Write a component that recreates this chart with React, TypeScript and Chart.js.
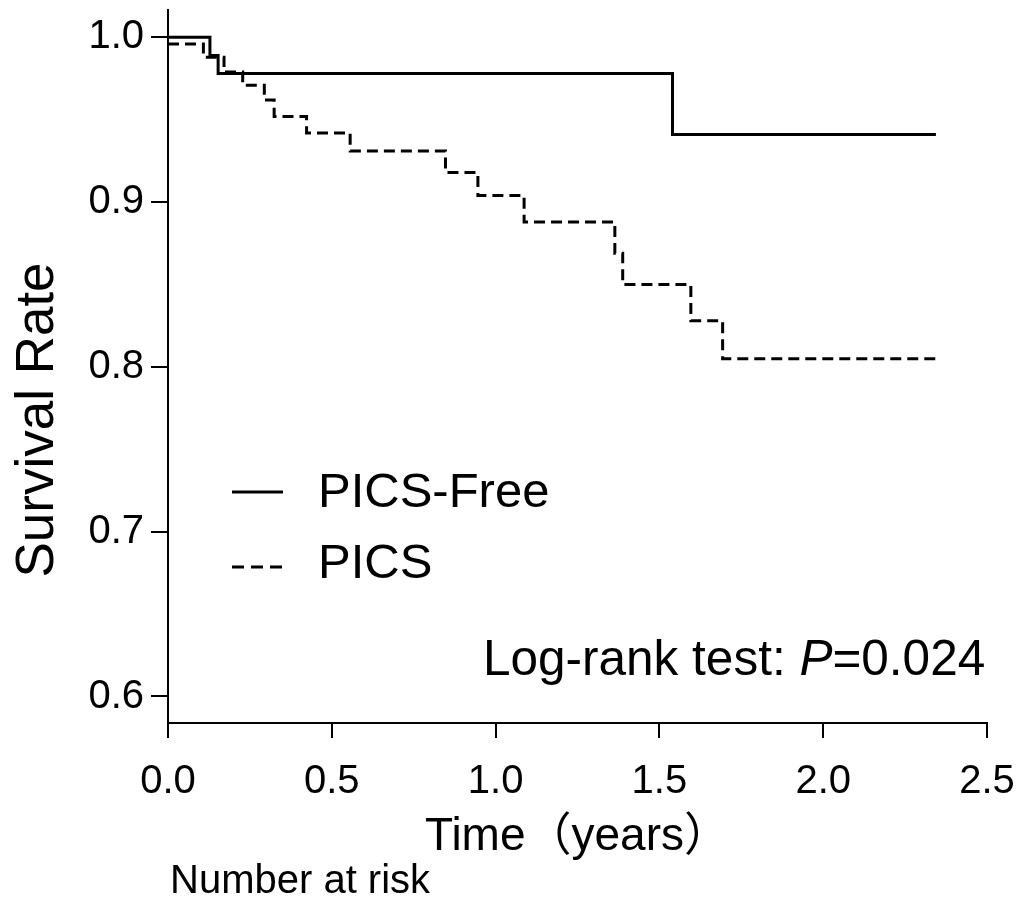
import React, { useEffect, useRef } from "react";
import { Chart, registerables } from "chart.js";

Chart.register(...registerables);

const FONT = "'Liberation Sans', Arial, 'Noto Sans CJK JP', sans-serif";

// ---- data ----
const seriesLabels = ["PICS-Free", "PICS"];
const picsFreeTimes = [0, 0.128, 0.153, 1.54, 2.344];
const picsFreeSurvival = [1.0, 0.989, 0.978, 0.941, 0.941];
const picsTimes = [0, 0.108, 0.171, 0.228, 0.294, 0.324, 0.423, 0.556, 0.847, 0.946, 1.087, 1.364, 1.388, 1.596, 1.693, 2.351];
const picsSurvival = [0.996, 0.988, 0.979, 0.971, 0.962, 0.952, 0.942, 0.931, 0.918, 0.904, 0.888, 0.869, 0.85, 0.828, 0.805, 0.805];
const xTicks = [0, 0.5, 1.0, 1.5, 2.0, 2.5];
const yTicks = [0.6, 0.7, 0.8, 0.9, 1.0];
const xTitle = "Time（years）";
const yTitle = "Survival Rate";
const testLabel = "Log-rank test: ";
const pSymbol = "P";
const pValueText = "=0.024";
const riskLabel = "Number at risk";

const overlayPlugin = {
  id: "overlay",
  afterDraw(chart: any) {
    const ctx: CanvasRenderingContext2D = chart.ctx;
    ctx.save();
    ctx.fillStyle = "#000";
    ctx.strokeStyle = "#000";

    // y-axis title
    ctx.save();
    ctx.translate(38, 420);
    ctx.rotate(-Math.PI / 2);
    ctx.font = `53px ${FONT}`;
    ctx.textAlign = "center";
    ctx.textBaseline = "middle";
    ctx.fillText(yTitle, 0, 0);
    ctx.restore();

    // legend
    const lineYs = [492, 567];
    const textYs = [507, 578];
    chart.data.datasets.forEach((ds: any, i: number) => {
      ctx.save();
      ctx.lineWidth = 3;
      ctx.setLineDash(ds.borderDash && ds.borderDash.length ? [12, 7] : []);
      ctx.beginPath();
      ctx.moveTo(232, lineYs[i]);
      ctx.lineTo(283, lineYs[i]);
      ctx.stroke();
      ctx.restore();
      ctx.font = `49px ${FONT}`;
      ctx.textAlign = "left";
      ctx.textBaseline = "alphabetic";
      ctx.fillText(ds.label, 318, textYs[i]);
    });

    // log-rank annotation
    ctx.textAlign = "left";
    ctx.textBaseline = "alphabetic";
    let x = 483;
    const by = 675;
    ctx.font = `49.5px ${FONT}`;
    ctx.fillText(testLabel, x, by);
    x += ctx.measureText(testLabel).width;
    ctx.font = `italic 49.5px ${FONT}`;
    ctx.fillText(pSymbol, x, by);
    x += ctx.measureText(pSymbol).width;
    ctx.font = `49.5px ${FONT}`;
    ctx.fillText(pValueText, x, by);

    // number at risk
    ctx.font = `40px ${FONT}`;
    ctx.fillText(riskLabel, 170, 893);

    ctx.restore();
  },
};

export default function App() {
  const ref = useRef<HTMLCanvasElement>(null);

  useEffect(() => {
    if (!ref.current) return;
    const chart = new Chart(ref.current, {
      type: "line",
      data: {
        datasets: [
          {
            label: seriesLabels[0],
            data: picsFreeTimes.map((t, i) => ({ x: t, y: picsFreeSurvival[i] })),
            borderColor: "#000",
            borderWidth: 3,
            pointRadius: 0,
            stepped: "before",
            fill: false,
          },
          {
            label: seriesLabels[1],
            data: picsTimes.map((t, i) => ({ x: t, y: picsSurvival[i] })),
            borderColor: "#000",
            borderWidth: 3,
            borderDash: [11, 6],
            pointRadius: 0,
            stepped: "before",
            fill: false,
          },
        ],
      },
      options: {
        animation: false,
        responsive: true,
        maintainAspectRatio: false,
        layout: { padding: { left: 0, top: 10, right: 49, bottom: 0 } },
        plugins: { legend: { display: false }, tooltip: { enabled: false } },
        scales: {
          x: {
            type: "linear",
            min: 0,
            max: 2.5,
            afterBuildTicks: (s: any) => {
              s.ticks = xTicks.map((v) => ({ value: v }));
            },
            afterFit: (s: any) => {
              s.height = 176;
              s.paddingLeft = 0;
              s.paddingRight = 0;
            },
            border: { display: true, color: "#000", width: 2 },
            grid: { display: true, drawOnChartArea: false, drawTicks: true, tickLength: 15, color: "#000", lineWidth: 2 },
            ticks: {
              color: "#000",
              font: { family: FONT, size: 40 },
              padding: 20,
              maxRotation: 0,
              autoSkip: false,
              callback: (v: any) => Number(v).toFixed(1),
            },
            title: {
              display: true,
              text: xTitle,
              color: "#000",
              font: { family: FONT, size: 46 },
              padding: { top: 0, bottom: 34 },
            },
          },
          y: {
            type: "linear",
            min: 0.5839,
            max: 1.0166,
            afterBuildTicks: (s: any) => {
              s.ticks = yTicks.map((v) => ({ value: v }));
            },
            afterFit: (s: any) => {
              s.width = 168;
              s.paddingTop = 0;
              s.paddingBottom = 0;
            },
            border: { display: true, color: "#000", width: 2 },
            grid: { display: true, drawOnChartArea: false, drawTicks: true, tickLength: 17, color: "#000", lineWidth: 2 },
            ticks: {
              color: "#000",
              font: { family: FONT, size: 40 },
              padding: 7,
              callback: (v: any) => Number(v).toFixed(1),
            },
          },
        },
      },
      plugins: [overlayPlugin],
    });
    return () => chart.destroy();
  }, []);

  return (
    <div style={{ position: "absolute", left: 0, top: 0, width: 1036, height: 899, background: "#fff" }}>
      <canvas ref={ref} />
    </div>
  );
}
